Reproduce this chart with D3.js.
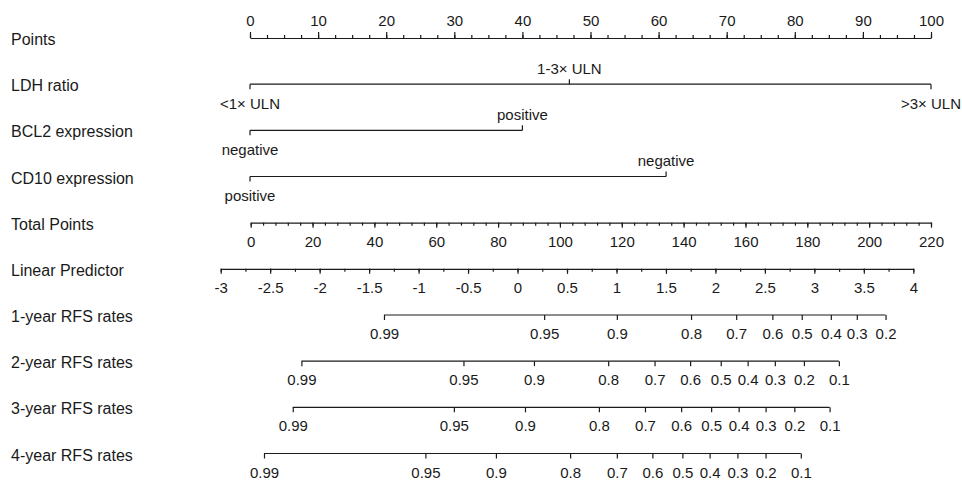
<!DOCTYPE html>
<html>
<head>
<meta charset="utf-8">
<script src="https://cdn.jsdelivr.net/npm/d3@7"></script>
<style>
  body { margin: 0; background: #fff; }
  text { font-family: "Liberation Sans", Arial, sans-serif; }
</style>
</head>
<body>
<svg id="chart"></svg>
<script>
const w = 962;
const h = 483;
const ink = "#1a1a1a";

// row names
const rowLabels = ["Points", "LDH ratio", "BCL2 expression", "CD10 expression", "Total Points",
                   "Linear Predictor", "1-year RFS rates", "2-year RFS rates", "3-year RFS rates", "4-year RFS rates"];

// axis ticks
const pointsTicks = [0, 10, 20, 30, 40, 50, 60, 70, 80, 90, 100];
const totalTicks = [0, 20, 40, 60, 80, 100, 120, 140, 160, 180, 200, 220];
const lpTicks = [-3, -2.5, -2, -1.5, -1, -0.5, 0, 0.5, 1, 1.5, 2, 2.5, 3, 3.5, 4];

// predictors: levels and their points
const ldhLevels = ["<1× ULN", "1-3× ULN", ">3× ULN"];
const ldhPoints = [0, 46.9, 100];
const bcl2Levels = ["negative", "positive"];
const bcl2Points = [0, 40];
const cd10Levels = ["positive", "negative"];
const cd10Points = [0, 61.1];

// RFS rates and the total points where they sit
const rfs1Probs = [0.99, 0.95, 0.9, 0.8, 0.7, 0.6, 0.5, 0.4, 0.3, 0.2];
const rfs1Total = [43.1, 94.9, 118.4, 142.4, 157.0, 168.7, 178.2, 187.6, 196.0, 205.3];
const rfs2Probs = [0.99, 0.95, 0.9, 0.8, 0.7, 0.6, 0.5, 0.4, 0.3, 0.2, 0.1];
const rfs2Total = [16.4, 68.8, 91.6, 115.6, 130.6, 142.1, 152.0, 160.7, 169.5, 178.9, 190.2];
const rfs3Probs = [0.99, 0.95, 0.9, 0.8, 0.7, 0.6, 0.5, 0.4, 0.3, 0.2, 0.1];
const rfs3Total = [13.6, 65.7, 88.7, 112.6, 127.5, 139.2, 148.9, 157.8, 166.5, 175.8, 187.2];
const rfs4Probs = [0.99, 0.95, 0.9, 0.8, 0.7, 0.6, 0.5, 0.4, 0.3, 0.2, 0.1];
const rfs4Total = [4.3, 56.5, 79.3, 103.3, 118.4, 129.9, 139.6, 148.4, 157.4, 166.5, 177.9];

var svg = d3.select("#chart")
  .attr("width", w)
  .attr("height", h);

const yRow = d3.scalePoint().domain(rowLabels).range([38, 453.5]);
const xPts = d3.scaleLinear().domain([0, 100]).range([250, 931]);
const xTot = d3.scaleLinear().domain([0, 220]).range([250.7, 931]);
const xLp = d3.scaleLinear().domain([-3, 4]).range([220.7, 913.3]);

function styleAxis(g) {
  g.attr("font-size", 15)
   .attr("font-family", "'Liberation Sans', Arial, sans-serif");
  g.selectAll("path, line").attr("stroke", ink).attr("stroke-width", 1.2);
  g.selectAll("text").attr("fill", ink);
}

// left labels
svg.append("g")
   .selectAll("text")
   .data(rowLabels)
   .join("text")
   .attr("x", 11)
   .attr("y", d => yRow(d) + 7)
   .attr("font-size", 16)
   .attr("fill", ink)
   .text(d => d);

// Points
var gPoints = svg.append("g").attr("transform", `translate(0, ${yRow("Points")})`);
gPoints.call(d3.axisTop(xPts).tickValues(pointsTicks).tickSize(6).tickSizeOuter(0).tickPadding(6.5));
gPoints.append("g")
       .call(d3.axisTop(xPts).tickValues(d3.range(0, 100.1, 2.5)).tickSize(3).tickFormat(""))
       .select(".domain").remove();
styleAxis(gPoints);

// categorical predictors
function catRow(name, levels, pts) {
  var g = svg.append("g").attr("transform", `translate(0, ${yRow(name)})`);
  g.append("line")
   .attr("x1", xPts(d3.min(pts)))
   .attr("x2", xPts(d3.max(pts)))
   .attr("stroke", ink)
   .attr("stroke-width", 1.2);
  g.selectAll("line.tick")
   .data(levels)
   .join("line")
   .attr("class", "tick")
   .attr("x1", (d, i) => xPts(pts[i]))
   .attr("x2", (d, i) => xPts(pts[i]))
   .attr("y2", (d, i) => i % 2 ? -5 : 5)
   .attr("stroke", ink)
   .attr("stroke-width", 1.2);
  g.selectAll("text")
   .data(levels)
   .join("text")
   .attr("x", (d, i) => xPts(pts[i]))
   .attr("y", (d, i) => i % 2 ? -10.5 : 24.5)
   .attr("text-anchor", "middle")
   .attr("font-size", 15)
   .attr("fill", ink)
   .text(d => d);
}
catRow("LDH ratio", ldhLevels, ldhPoints);
catRow("BCL2 expression", bcl2Levels, bcl2Points);
catRow("CD10 expression", cd10Levels, cd10Points);

// Total Points
var gTotal = svg.append("g").attr("transform", `translate(0, ${yRow("Total Points")})`);
gTotal.call(d3.axisBottom(xTot).tickValues(totalTicks).tickSize(5).tickSizeOuter(0).tickPadding(8.4));
gTotal.append("g")
      .call(d3.axisBottom(xTot).tickValues(d3.range(0, 220.1, 4)).tickSize(3).tickFormat(""))
      .select(".domain").remove();
styleAxis(gTotal);

// Linear Predictor
var gLp = svg.append("g").attr("transform", `translate(0, ${yRow("Linear Predictor")})`);
gLp.call(d3.axisBottom(xLp).tickValues(lpTicks).tickSize(5).tickSizeOuter(0).tickPadding(8.4)
           .tickFormat(d => String(d)));
gLp.append("g")
   .call(d3.axisBottom(xLp).tickValues(d3.range(-3, 4.01, 0.25)).tickSize(3).tickFormat(""))
   .select(".domain").remove();
styleAxis(gLp);

// RFS rates
function survRow(name, probs, tot) {
  var g = svg.append("g").attr("transform", `translate(0, ${yRow(name)})`);
  g.call(d3.axisBottom(xTot).tickValues(tot).tickSize(5).tickPadding(8.4)
           .tickFormat((d, i) => String(probs[i])));
  g.select(".domain").remove();
  g.append("line")
   .attr("x1", xTot(tot[0]))
   .attr("x2", xTot(tot[tot.length - 1]));
  styleAxis(g);
}
survRow("1-year RFS rates", rfs1Probs, rfs1Total);
survRow("2-year RFS rates", rfs2Probs, rfs2Total);
survRow("3-year RFS rates", rfs3Probs, rfs3Total);
survRow("4-year RFS rates", rfs4Probs, rfs4Total);
</script>
</body>
</html>
